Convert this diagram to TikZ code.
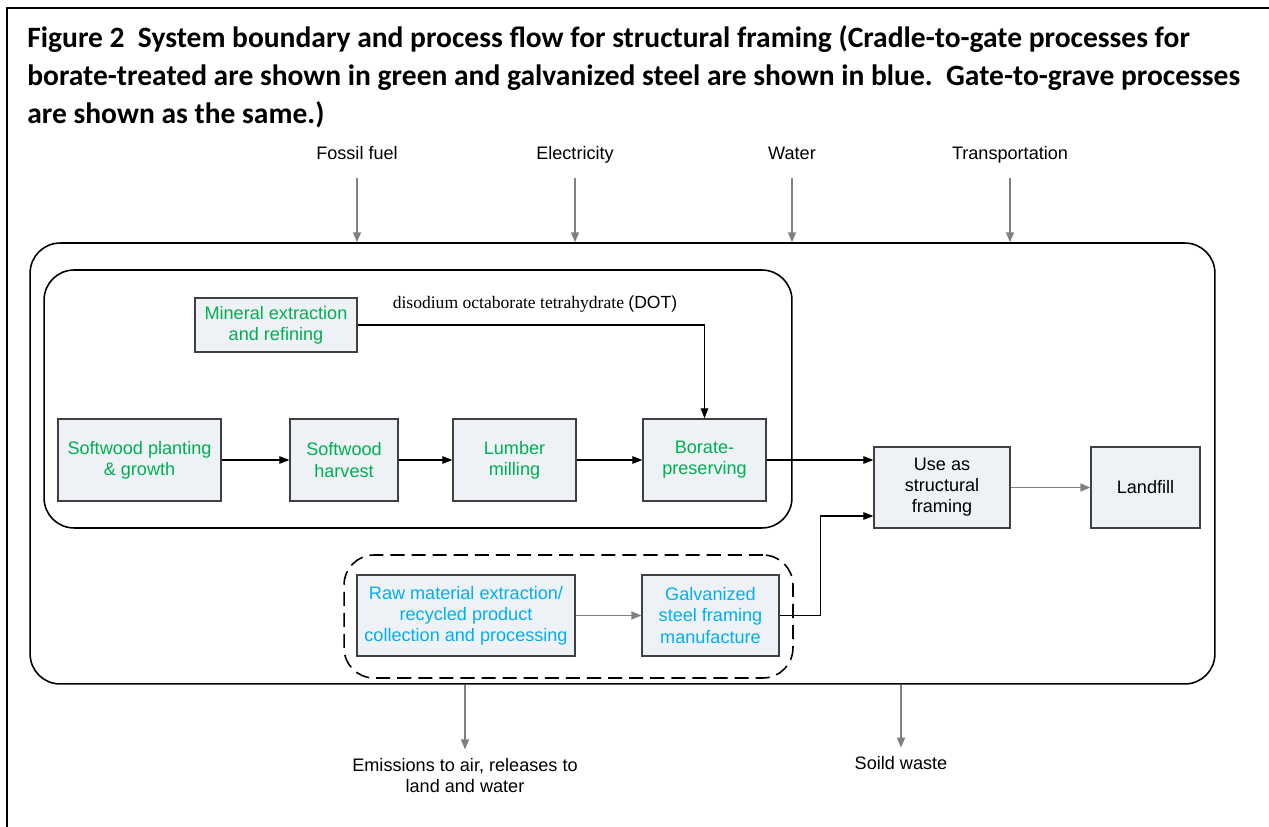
\documentclass[tikz,border=0pt]{standalone}
\usepackage{fontspec}
\setmainfont{Liberation Sans}
\newfontfamily\titlefont{Carlito}
\newfontfamily\serifdot{Liberation Serif}
\usetikzlibrary{arrows.meta}

\definecolor{woodgreen}{RGB}{0,176,80}
\definecolor{steelblue}{RGB}{0,176,240}
\definecolor{boxfill}{RGB}{238,241,246}
\definecolor{flowgray}{RGB}{128,128,128}

\tikzset{
  proc/.style={draw=black!75, line width=0.7pt, fill=boxfill, align=center, inner sep=0pt,
    font=\fontsize{10.3}{12}\selectfont},
  wood/.style={proc, text=woodgreen},
  steel/.style={proc, text=steelblue},
  gate/.style={proc, text=black},
  label/.style={align=center, inner sep=2pt, font=\fontsize{10.3}{12}\selectfont},
  toplabel/.style={label, text height=7.5pt, text depth=2.2pt},
  flow/.style={black, line width=0.6pt, -{Triangle[length=2mm,width=1.5mm]}},
  grayflow/.style={flowgray, line width=0.9pt, -{Triangle[length=2mm,width=1.6mm]}},
}

\begin{document}
\begin{tikzpicture}[x=0.02cm, y=-0.02cm]
\useasboundingbox (0,0) rectangle (1269,827);
\draw[line width=1.2pt] (7,827) -- (7,8) -- (1269,8);

% title
\node[anchor=west, align=left, inner sep=0pt, font=\titlefont\bfseries\fontsize{16.8}{21.5}\selectfont] (title) at (27,77)
 {Figure 2\ \ System boundary and process flow for structural framing (Cradle-to-gate processes for\\
  borate-treated are shown in green and galvanized steel are shown in blue.\ \ Gate-to-grave processes\\
  are shown as the same.)};

% boundaries
\node[draw, line width=0.9pt, rounded corners=0.6cm, minimum width=23.7cm, minimum height=8.82cm] (sys) at (622.5,463.5) {};
\node[draw, line width=0.9pt, rounded corners=0.6cm, minimum width=14.96cm, minimum height=5.16cm] (borsys) at (418,399) {};
\node[draw, line width=0.9pt, dashed, dash pattern=on 8pt off 4pt, rounded corners=0.6cm, minimum width=8.98cm, minimum height=2.46cm] (steelsys) at (568.5,616.5) {};

% processes
\node[wood, minimum width=3.24cm, minimum height=1.08cm] (mineral) at (276,325) {Mineral extraction\\and refining};
\node[wood, minimum width=3.26cm, minimum height=1.64cm] (plant) at (139.5,460) {Softwood planting\\\& growth};
\node[wood, minimum width=2.16cm, minimum height=1.64cm] (harvest) at (344,460) {Softwood\\harvest};
\node[wood, minimum width=2.46cm, minimum height=1.64cm] (lumber) at (514.5,460) {Lumber\\milling};
\node[wood, minimum width=2.46cm, minimum height=1.64cm] (borate) at (704.5,460) {Borate-\\preserving};
\node[steel, minimum width=4.36cm, minimum height=1.62cm] (raw) at (466,615.5) {Raw material extraction/\\recycled product\\collection and processing};
\node[steel, minimum width=2.74cm, minimum height=1.62cm] (galv) at (710.5,615.5) {Galvanized\\steel framing\\manufacture};
\node[gate, minimum width=2.72cm, minimum height=1.62cm] (use) at (942,487.5) {Use as\\structural\\framing};
\node[gate, minimum width=2.18cm, minimum height=1.62cm] (landfill) at (1145.5,487.5) {Landfill};

\node[inner sep=0pt, font=\fontsize{10}{12}\selectfont] (dot) at (535,304) {\serifdot disodium octaborate tetrahydrate {\rmfamily\fontspec{Liberation Sans}(DOT)}};

% inputs and outputs
\node[toplabel] (fuel) at (357,155) {Fossil fuel};
\node[toplabel] (elec) at (575,155) {Electricity};
\node[toplabel] (water) at (792,155) {Water};
\node[toplabel] (trans) at (1010,155) {Transportation};
\foreach \n in {fuel, elec, water, trans}
  \draw[grayflow] ([yshift=-0.22cm]\n.south) -- (\n |- sys.north);

\node[label] (emis) at (465,775.5) {Emissions to air, releases to\\land and water};
\node[toplabel] (waste) at (901,765) {Soild waste};
\draw[grayflow] (emis |- sys.south) -- ([yshift=0.1cm]emis.north);
\draw[grayflow] (waste |- sys.south) -- ([yshift=0.1cm]waste.north);

% flows
\draw[flow] (mineral.east) -| (borate.north);
\draw[flow] (plant) -- (harvest);
\draw[flow] (harvest) -- (lumber);
\draw[flow] (lumber) -- (borate);
\draw[flow] (borate.east) -- (borate.east -| use.west);
\draw[grayflow] (raw) -- (galv);
\draw[flow] (galv.east) -- ++(41,0) |- ([yshift=-0.57cm]use.west);
\draw[grayflow] (use) -- (landfill);
\end{tikzpicture}
\end{document}
